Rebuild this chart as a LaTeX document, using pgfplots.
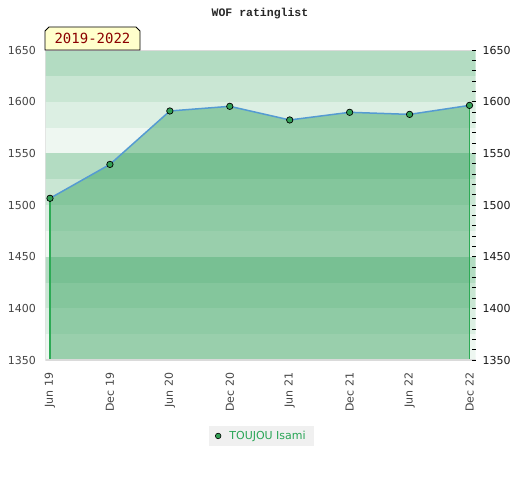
\documentclass[border=0pt]{standalone}
\usepackage{pgfplots}
\pgfplotsset{compat=1.18}
\usepackage{fontspec}
\setmainfont{DejaVu Sans}
\newfontfamily\monob{Liberation Mono}
\newfontfamily\dmono{DejaVu Sans Mono}
\definecolor{bandA}{HTML}{B3DCC2}
\definecolor{bandB}{HTML}{C9E6D3}
\definecolor{bandC}{HTML}{DCEFE3}
\definecolor{bandD}{HTML}{EEF7F1}
\definecolor{areagreen}{RGB}{50,160,90}
\definecolor{edgegreen}{RGB}{45,170,85}
\definecolor{lineblue}{RGB}{85,155,210}
\definecolor{markgreen}{RGB}{50,160,85}
\definecolor{framegray}{HTML}{DADADA}
\definecolor{labgray}{HTML}{444444}
\definecolor{legendgray}{HTML}{F0F0F0}
\definecolor{legendgreen}{RGB}{40,165,85}
\definecolor{tagyellow}{HTML}{FFFFCC}
\definecolor{tagred}{HTML}{8B0000}
\pgfplotstableread{
x y
0 1506.5
1 1539.3
2 1591.0
3 1595.5
4 1582.3
5 1589.7
6 1587.7
7 1596.4
}\ratings
\begin{document}
\begin{tikzpicture}[x=1pt,y=1pt]
\node[font=\monob\bfseries\fontsize{11.5}{12}\selectfont, text=black!85] at (260,466.5) {WOF ratinglist};
\begin{axis}[
  at={(45.5pt,120pt)}, anchor=south west, scale only axis,
  width=430pt, height=310pt,
  xmin=-0.075, xmax=7.1, ymin=1350, ymax=1650,
  axis line style={draw=none},
  xtick={0,...,7},
  xticklabels={Jun 19,Dec 19,Jun 20,Dec 20,Jun 21,Dec 21,Jun 22,Dec 22},
  ytick={1350,1400,...,1650},
  major tick length=0pt,
  /pgf/number format/1000 sep={},
  /pgf/number format/assume math mode=true,
  ticklabel style={font=\fontsize{11}{12}\selectfont, text=labgray, inner sep=0pt},
  xticklabel style={rotate=90, anchor=east},
  xticklabel shift=12.5pt,
  yticklabel shift=9.5pt,
  legend style={at={(0.502,-0.245)}, anchor=center, fill=legendgray, draw=none,
    font=\fontsize{11}{12}\selectfont, text=legendgreen, inner xsep=3pt, inner ysep=3pt,
    nodes={inner xsep=5pt}},
  legend image code/.code={\path (0pt,0pt) (12pt,0pt);\draw[mark=*, mark size=2.8pt, mark options={fill=markgreen, draw=black, line width=0.6pt}] plot coordinates {(6pt,0pt)};},
]
\fill[bandA] (axis cs:-0.075,1625) rectangle (axis cs:7.1,1650);
\fill[bandB] (axis cs:-0.075,1600) rectangle (axis cs:7.1,1625);
\fill[bandC] (axis cs:-0.075,1575) rectangle (axis cs:7.1,1600);
\fill[bandD] (axis cs:-0.075,1550) rectangle (axis cs:7.1,1575);
\fill[bandA] (axis cs:-0.075,1525) rectangle (axis cs:7.1,1550);
\fill[bandB] (axis cs:-0.075,1500) rectangle (axis cs:7.1,1525);
\fill[bandC] (axis cs:-0.075,1475) rectangle (axis cs:7.1,1500);
\fill[bandD] (axis cs:-0.075,1450) rectangle (axis cs:7.1,1475);
\fill[bandA] (axis cs:-0.075,1425) rectangle (axis cs:7.1,1450);
\fill[bandB] (axis cs:-0.075,1400) rectangle (axis cs:7.1,1425);
\fill[bandC] (axis cs:-0.075,1375) rectangle (axis cs:7.1,1400);
\fill[bandD] (axis cs:-0.075,1350) rectangle (axis cs:7.1,1375);
\addplot[fill=areagreen, fill opacity=0.45, draw=none, forget plot] table[x=x,y=y] {\ratings} \closedcycle;
\addplot[draw=edgegreen, line width=1.2pt, forget plot] coordinates {(0,1350) (0,1506.5)};
\addplot[draw=edgegreen, line width=1.2pt, forget plot] coordinates {(7,1350) (7,1596.4)};
\addplot[draw=lineblue, line width=1.5pt, forget plot] table[x=x,y=y] {\ratings};
\addplot[only marks, mark=*, mark size=3.2pt, mark options={fill=markgreen, draw=black, line width=0.7pt}] table[x=x,y=y] {\ratings};
\addlegendentry{TOUJOU Isami}
\draw[framegray, line width=1.5pt] (rel axis cs:0,1) -- (rel axis cs:1,1);
\draw[framegray, line width=1.5pt] (rel axis cs:0,1) -- (rel axis cs:0,0) -- (rel axis cs:1,0);
\end{axis}
\begin{axis}[
  at={(45.5pt,120pt)}, anchor=south west, scale only axis,
  width=430pt, height=310pt,
  xmin=-0.075, xmax=7.1, ymin=1350, ymax=1650,
  axis x line=none,
  axis y line*=right,
  axis line style={draw=none},
  ytick={1350,1400,...,1650},
  minor ytick={1360,1370,...,1640},
  tick align=inside,
  major tick length=4pt, minor tick length=4pt,
  tick style={black, line width=0.8pt},
  /pgf/number format/1000 sep={},
  /pgf/number format/assume math mode=true,
  yticklabel style={font=\fontsize{11}{12}\selectfont, text=black!90, inner sep=0pt, anchor=west},
  yticklabel shift=7pt,
]
\addplot[draw=none] coordinates {(0,1400)};
\end{axis}
\draw[fill=tagyellow, draw=black, line width=0.8pt] (45,430) -- (45,449) -- (49,453) -- (136,453) -- (140,449) -- (140,430) -- cycle;
\node[font=\dmono\fontsize{14}{15}\selectfont, text=tagred] at (92.5,441.5) {2019-2022};
\pgfresetboundingbox
\useasboundingbox (0,0) rectangle (520,480);
\end{tikzpicture}
\end{document}
